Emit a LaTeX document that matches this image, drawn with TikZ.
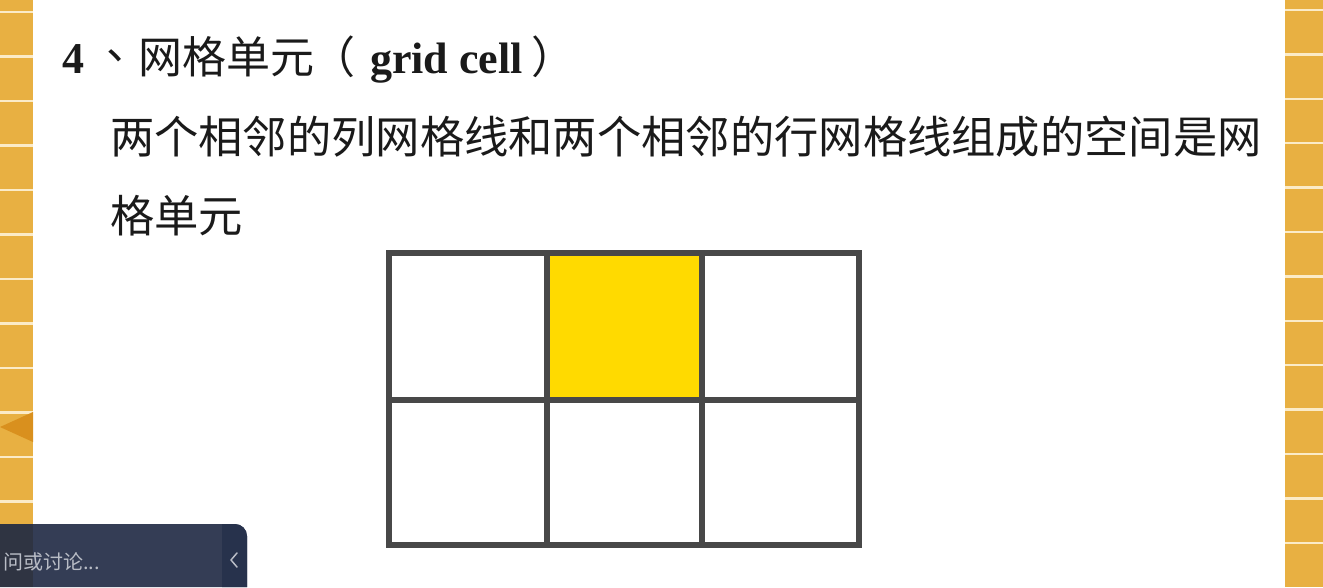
\documentclass[tikz,border=0pt]{standalone}
\usepackage{fontspec}
\setmainfont{Liberation Serif}
\newfontfamily\cjk{Noto Sans CJK SC}
\definecolor{stripO}{HTML}{E8B042}
\definecolor{stripL}{HTML}{FBEBC8}
\definecolor{triO}{HTML}{D9901E}
\definecolor{gridC}{HTML}{484848}
\definecolor{cellY}{HTML}{FFDA00}
\definecolor{panelA}{HTML}{343D55}
\definecolor{panelB}{HTML}{27324C}
\definecolor{panelC}{HTML}{2F3442}
\definecolor{panelT}{HTML}{B9BDC6}
\definecolor{txt}{HTML}{1A1A1A}
\tikzset{
  txtnode/.style={anchor=base west, inner sep=0pt, outer sep=0pt, text=txt},
  gridline/.style={draw=gridC, line width=6.5pt},
  sepline/.style={draw=stripL, line width=2.5pt},
}
\begin{document}
\begin{tikzpicture}[x=1pt,y=-1pt]
\useasboundingbox (0,0) rectangle (1323,587);
\fill[white] (0,0) rectangle (1323,587);
% side strips
\fill[stripO] (0,0) rectangle (33,524);
\fill[stripO] (1285,0) rectangle (1323,587);
\foreach \k in {0,...,11} {
  \draw[sepline] (0,{12+44.5*\k}) -- (33,{12+44.5*\k});
}
\foreach \k in {0,...,12} {
  \draw[sepline] (1285,{10+44.4*\k}) -- (1323,{10+44.4*\k});
}
\fill[triO] (0,427) -- (33,412) -- (33,442) -- cycle;
% title
\node[txtnode, font=\fontsize{44}{50}\selectfont\bfseries] (n4) at (62,73) {4};
\node[txtnode, font=\fontsize{44}{50}\selectfont\cjk] (dun) at (106,59) {\makebox[22pt][l]{、}};
\node[txtnode, font=\fontsize{44}{50}\selectfont\cjk] (tt) at (138,73) {网格单元};
\node[txtnode, font=\fontsize{44}{50}\selectfont\cjk] (lp) at (311,73) {（};
\node[txtnode, font=\fontsize{44}{50}\selectfont\bfseries] (gc) at (370,73) {grid cell};
\node[txtnode, font=\fontsize{44}{50}\selectfont\cjk] (rp) at (531,73) {）};
% body
\node[txtnode, font=\fontsize{44.3}{50}\selectfont\cjk] (l1) at (110,153) {两个相邻的列网格线和两个相邻的行网格线组成的空间是网};
\node[txtnode, font=\fontsize{44.3}{50}\selectfont\cjk] (l2) at (110,232) {格单元};
% grid
\fill[cellY] (547,253) rectangle (702,400);
\draw[gridline] (389,253) rectangle (859,545);
\draw[gridline] (389,400) -- (859,400);
\draw[gridline] (547,253) -- (547,545);
\draw[gridline] (702,253) -- (702,545);
% bottom panel
\fill[panelA] (0,524) -- (235,524) arc[start angle=-90, end angle=0, radius=12] -- (247,587) -- (0,587) -- cycle;
\fill[panelB] (222,524) -- (235,524) arc[start angle=-90, end angle=0, radius=12] -- (247,587) -- (222,587) -- cycle;
\fill[panelC] (0,524) rectangle (33,587);
\node[anchor=base west, inner sep=0pt, text=panelT, font=\fontsize{20}{24}\selectfont\cjk] (ask) at (3,569) {问或讨论...};
\draw[panelT, line width=1.5pt, line cap=round, line join=round] (237,553) -- (231,560) -- (237,567);
\end{tikzpicture}
\end{document}
